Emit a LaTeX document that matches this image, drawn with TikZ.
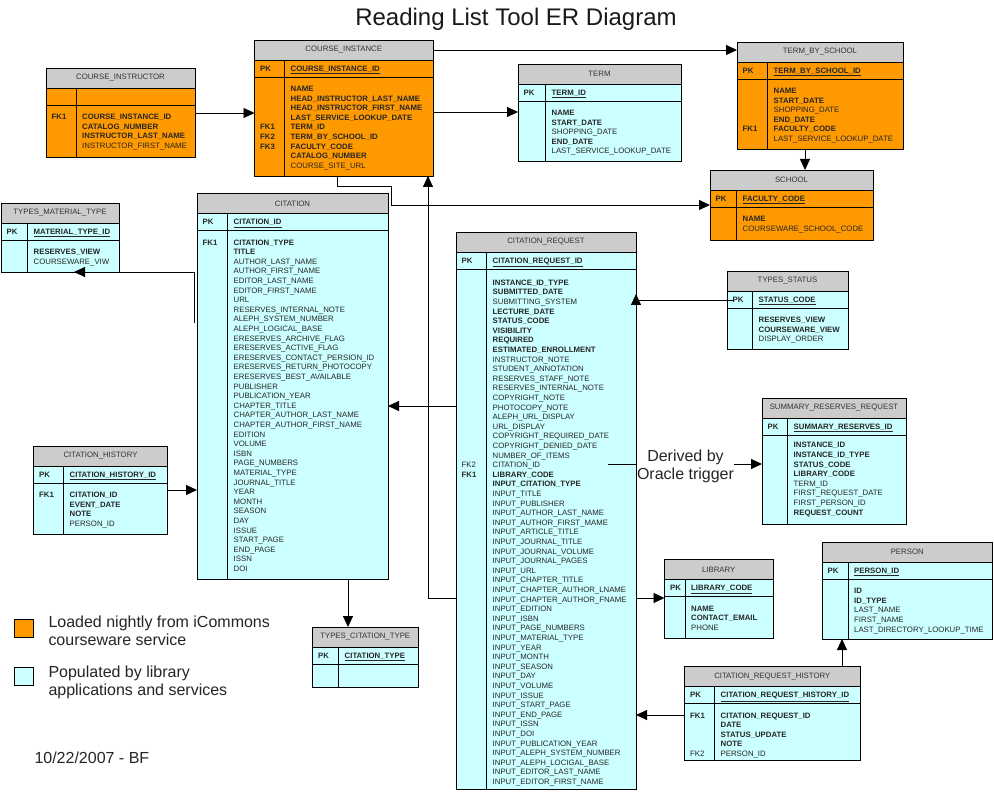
\documentclass[tikz,border=0pt]{standalone}
\usepackage{fontspec}
\setmainfont{Liberation Sans}
\usetikzlibrary{arrows.meta,calc}
\definecolor{orng}{HTML}{FF9900}
\definecolor{cyn}{HTML}{CCFFFF}
\definecolor{hgray}{HTML}{CCCCCC}
\definecolor{fieldgray}{HTML}{333333}
\newcommand{\fs}{\fontsize{7.8}{9.6}\selectfont}
\tikzset{
  tblbox/.style={draw=black, line width=0.8pt, inner sep=0pt, outer sep=0pt},
  hdrbox/.style={draw=black, line width=0.8pt, fill=hgray, inner sep=0pt, outer sep=0pt, minimum height=20pt, font=\fs, text=fieldgray},
  tline/.style={draw=black, line width=0.8pt},
  ftext/.style={anchor=base west, inner sep=0pt, font=\fs, text=black!85},
  arr/.style={draw=black, line width=0.9pt, -{Triangle[length=11pt,width=10pt]}},
  plainln/.style={draw=black, line width=0.9pt},
  legendtxt/.style={anchor=base west, inner sep=0pt, font=\fontsize{16}{19}\selectfont, text=black!85},
  legendbox/.style={draw=black, line width=0.8pt, inner sep=0pt, minimum width=19pt, minimum height=18.5pt},
}
% #1 name #2 left #3 top #4 right #5 bottom #6 divider #7 fill #8 title
\newcommand{\ertbl}[8]{%
  \node[tblbox, fill=#7, minimum width={(#4-#2)*1pt}, minimum height={(#5-#3)*1pt}] (#1) at ({(#2+#4)/2},{(#3+#5)/2}) {};
  \node[hdrbox, minimum width={(#4-#2)*1pt}] (#1-h) at ({(#2+#4)/2},{#3+10}) {#8};
  \draw[tline] ({#2},{#3+37}) -- ({#4},{#3+37});
  \draw[tline] ({#6},{#3+20}) -- ({#6},{#5});
  \coordinate (#1-c) at ({#2+5.5},{#3+31.3});
  \coordinate (#1-f) at ({#6+6},{#3+31.3});
}
\newcommand{\pkrow}[2]{%
  \node[ftext] (#1-pkl) at (#1-c) {\textbf{PK}};
  \node[ftext] (#1-pkf) at (#1-f) {\underline{\textbf{#2}}};
}
\newcommand{\fieldlist}[3][20.3]{%
  \foreach \fld [count=\i from 0] in {#3} {\node[ftext] (#2-r\i) at ($(#2-f)+(0,{#1+9.6*\i})$) {\fld};}
}
\newcommand{\fkey}[4][20.3]{%
  \node[ftext] (#2-k#3) at ($(#2-c)+(0,{#1+9.6*#3})$) {#4};
}
\begin{document}
\begin{tikzpicture}[x=1pt,y=-1pt]
\useasboundingbox (0,0) rectangle (994,794);
\fill[white] (0,0) rectangle (994,794);

\node[anchor=base, inner sep=0pt, font=\fontsize{24}{28}\selectfont, text=black!90] (title) at (516,26) {Reading List Tool ER Diagram};

% COURSE_INSTRUCTOR
\ertbl{cinstr}{46}{68}{195}{157}{76}{orng}{COURSE\_INSTRUCTOR}
\fkey{cinstr}{0}{\textbf{FK1}}
\fieldlist{cinstr}{\textbf{COURSE\_INSTANCE\_ID},\textbf{CATALOG\_NUMBER},\textbf{INSTRUCTOR\_LAST\_NAME},INSTRUCTOR\_FIRST\_NAME}

% COURSE_INSTANCE
\ertbl{cinst}{254.5}{40}{433}{176}{284.5}{orng}{COURSE\_INSTANCE}
\pkrow{cinst}{COURSE\_INSTANCE\_ID}
\fkey{cinst}{4}{\textbf{FK1}}
\fkey{cinst}{5}{\textbf{FK2}}
\fkey{cinst}{6}{\textbf{FK3}}
\fieldlist{cinst}{\textbf{NAME},\textbf{HEAD\_INSTRUCTOR\_LAST\_NAME},\textbf{HEAD\_INSTRUCTOR\_FIRST\_NAME},\textbf{LAST\_SERVICE\_LOOKUP\_DATE},\textbf{TERM\_ID},\textbf{TERM\_BY\_SCHOOL\_ID},\textbf{FACULTY\_CODE},\textbf{CATALOG\_NUMBER},COURSE\_SITE\_URL}

% TERM
\ertbl{term}{518}{64}{681}{161.5}{545.5}{cyn}{TERM}
\pkrow{term}{TERM\_ID}
\fieldlist{term}{\textbf{NAME},\textbf{START\_DATE},SHOPPING\_DATE,\textbf{END\_DATE},LAST\_SERVICE\_LOOKUP\_DATE}

% TERM_BY_SCHOOL
\ertbl{tbs}{737}{42}{903}{149.5}{767.5}{orng}{TERM\_BY\_SCHOOL}
\pkrow{tbs}{TERM\_BY\_SCHOOL\_ID}
\fkey{tbs}{4}{\textbf{FK1}}
\fieldlist{tbs}{\textbf{NAME},\textbf{START\_DATE},SHOPPING\_DATE,\textbf{END\_DATE},\textbf{FACULTY\_CODE},LAST\_SERVICE\_LOOKUP\_DATE}

% SCHOOL
\ertbl{school}{710}{170}{873}{240.5}{736.5}{orng}{SCHOOL}
\pkrow{school}{FACULTY\_CODE}
\fieldlist{school}{\textbf{NAME},COURSEWARE\_SCHOOL\_CODE}

% TYPES_MATERIAL_TYPE
\ertbl{tmt}{1}{203}{119}{272}{27.5}{cyn}{TYPES\_MATERIAL\_TYPE}
\pkrow{tmt}{MATERIAL\_TYPE\_ID}
\fieldlist{tmt}{\textbf{RESERVES\_VIEW},COURSEWARE\_VIW}

% CITATION
\ertbl{cit}{197}{193.5}{388}{579}{227.5}{cyn}{CITATION}
\pkrow{cit}{CITATION\_ID}
\fkey{cit}{0}{\textbf{FK1}}
\fieldlist{cit}{\textbf{CITATION\_TYPE},\textbf{TITLE},AUTHOR\_LAST\_NAME,AUTHOR\_FIRST\_NAME,EDITOR\_LAST\_NAME,EDITOR\_FIRST\_NAME,URL,RESERVES\_INTERNAL\_NOTE,ALEPH\_SYSTEM\_NUMBER,ALEPH\_LOGICAL\_BASE,ERESERVES\_ARCHIVE\_FLAG,ERESERVES\_ACTIVE\_FLAG,ERESERVES\_CONTACT\_PERSION\_ID,ERESERVES\_RETURN\_PHOTOCOPY,ERESERVES\_BEST\_AVAILABLE,PUBLISHER,PUBLICATION\_YEAR,CHAPTER\_TITLE,CHAPTER\_AUTHOR\_LAST\_NAME,CHAPTER\_AUTHOR\_FIRST\_NAME,EDITION,VOLUME,ISBN,PAGE\_NUMBERS,MATERIAL\_TYPE,JOURNAL\_TITLE,YEAR,MONTH,SEASON,DAY,ISSUE,START\_PAGE,END\_PAGE,ISSN,DOI}

% TYPES_STATUS
\ertbl{ts}{727}{271}{848}{349}{752.5}{cyn}{TYPES\_STATUS}
\pkrow{ts}{STATUS\_CODE}
\fieldlist{ts}{\textbf{RESERVES\_VIEW},\textbf{COURSEWARE\_VIEW},DISPLAY\_ORDER}

% CITATION_REQUEST
\ertbl{cr}{456}{232}{636}{789}{486.5}{cyn}{CITATION\_REQUEST}
\pkrow{cr}{CITATION\_REQUEST\_ID}
\fkey[22]{cr}{19}{FK2}
\fkey[22]{cr}{20}{\textbf{FK1}}
\fieldlist[22]{cr}{\textbf{INSTANCE\_ID\_TYPE},\textbf{SUBMITTED\_DATE},SUBMITTING\_SYSTEM,\textbf{LECTURE\_DATE},\textbf{STATUS\_CODE},\textbf{VISIBILITY},\textbf{REQUIRED},\textbf{ESTIMATED\_ENROLLMENT},INSTRUCTOR\_NOTE,STUDENT\_ANNOTATION,RESERVES\_STAFF\_NOTE,RESERVES\_INTERNAL\_NOTE,COPYRIGHT\_NOTE,PHOTOCOPY\_NOTE,ALEPH\_URL\_DISPLAY,URL\_DISPLAY,COPYRIGHT\_REQUIRED\_DATE,COPYRIGHT\_DENIED\_DATE,NUMBER\_OF\_ITEMS,CITATION\_ID,\textbf{LIBRARY\_CODE},\textbf{INPUT\_CITATION\_TYPE},INPUT\_TITLE,INPUT\_PUBLISHER,INPUT\_AUTHOR\_LAST\_NAME,INPUT\_AUTHOR\_FIRST\_MAME,INPUT\_ARTICLE\_TITLE,INPUT\_JOURNAL\_TITLE,INPUT\_JOURNAL\_VOLUME,INPUT\_JOURNAL\_PAGES,INPUT\_URL,INPUT\_CHAPTER\_TITLE,INPUT\_CHAPTER\_AUTHOR\_LNAME,INPUT\_CHAPTER\_AUTHOR\_FNAME,INPUT\_EDITION,INPUT\_ISBN,INPUT\_PAGE\_NUMBERS,INPUT\_MATERIAL\_TYPE,INPUT\_YEAR,INPUT\_MONTH,INPUT\_SEASON,INPUT\_DAY,INPUT\_VOLUME,INPUT\_ISSUE,INPUT\_START\_PAGE,INPUT\_END\_PAGE,INPUT\_ISSN,INPUT\_DOI,INPUT\_PUBLICATION\_YEAR,INPUT\_ALEPH\_SYSTEM\_NUMBER,INPUT\_ALEPH\_LOCIGAL\_BASE,INPUT\_EDITOR\_LAST\_NAME,INPUT\_EDITOR\_FIRST\_NAME}

% SUMMARY_RESERVES_REQUEST
\ertbl{srr}{762}{398}{906}{524}{787.5}{cyn}{SUMMARY\_RESERVES\_REQUEST}
\pkrow{srr}{SUMMARY\_RESERVES\_ID}
\fieldlist[18.5]{srr}{\textbf{INSTANCE\_ID},\textbf{INSTANCE\_ID\_TYPE},\textbf{STATUS\_CODE},\textbf{LIBRARY\_CODE},TERM\_ID,FIRST\_REQUEST\_DATE,FIRST\_PERSON\_ID,\textbf{REQUEST\_COUNT}}

% CITATION_HISTORY
\ertbl{ch}{33.5}{446}{167.5}{534}{63.5}{cyn}{CITATION\_HISTORY}
\pkrow{ch}{CITATION\_HISTORY\_ID}
\fkey{ch}{0}{\textbf{FK1}}
\fieldlist{ch}{\textbf{CITATION\_ID},\textbf{EVENT\_DATE},\textbf{NOTE},PERSON\_ID}

% LIBRARY
\ertbl{lib}{664.5}{559.5}{773}{638}{685}{cyn}{LIBRARY}
\pkrow{lib}{LIBRARY\_CODE}
\fieldlist{lib}{\textbf{NAME},\textbf{CONTACT\_EMAIL},PHONE}

% PERSON
\ertbl{person}{822}{542}{992.5}{639}{848}{cyn}{PERSON}
\pkrow{person}{PERSON\_ID}
\fieldlist{person}{\textbf{ID},\textbf{ID\_TYPE},LAST\_NAME,FIRST\_NAME,LAST\_DIRECTORY\_LOOKUP\_TIME}

% TYPES_CITATION_TYPE
\ertbl{tct}{312.5}{627}{418}{687}{338.5}{cyn}{TYPES\_CITATION\_TYPE}
\pkrow{tct}{CITATION\_TYPE}

% CITATION_REQUEST_HISTORY
\ertbl{crh}{684.5}{666.5}{860}{760}{714.5}{cyn}{CITATION\_REQUEST\_HISTORY}
\pkrow{crh}{CITATION\_REQUEST\_HISTORY\_ID}
\fkey{crh}{0}{\textbf{FK1}}
\fkey{crh}{4}{FK2}
\fieldlist{crh}{\textbf{CITATION\_REQUEST\_ID},\textbf{DATE},\textbf{STATUS\_UPDATE},\textbf{NOTE},PERSON\_ID}

% connectors
\draw[arr] (cinstr.east |- 0,113) -- (cinst.west |- 0,113);
\draw[arr] (cinst.east |- 0,50) -- (tbs.west |- 0,50);
\draw[arr] (cinst.east |- 0,112) -- (term.west |- 0,112);
\draw[arr] (805,0 |- tbs.south) -- (805,0 |- school.north);
\draw[arr] (337,0 |- cinst.south) -- (337,186) -- (391,186) -- (391,205) -- (school.west |- 0,205);
\draw[arr] (cr.west |- 0,598) -- (428,598) -- (428,0 |- cinst.south);
\draw[arr] (cr.west |- 0,406) -- (cit.east |- 0,406);
\coordinate (citL) at (194,323);
\draw[arr] (citL) -- (194,272) -- (74,0 |- tmt.south);
\draw[arr] (ch.east |- 0,490) -- (cit.west |- 0,490);
\draw[arr] (348,0 |- cit.south) -- (348,0 |- tct.north);
\coordinate (tsE) at (733,300);
\draw[plainln] (tsE) -- (cr.east |- tsE);
\draw[arr] (cr.east |- 0,307) -- (cr.east |- 0,294);
\coordinate (crS) at (608,464);
\node[inner sep=0pt, align=center, font=\fontsize{16}{18}\selectfont, text=black!85] (trig) at (685.5,466) {Derived by\\Oracle trigger};
\draw[plainln] (crS) -- (cr.east |- crS);
\draw[arr] (trig.east |- crS) -- (srr.west |- crS);
\draw[arr] (cr.east |- 0,598) -- (lib.west |- 0,598);
\draw[arr] (crh.west |- 0,715) -- (cr.east |- 0,715);
\draw[arr] (842,0 |- crh.north) -- (842,0 |- person.south);

% legend
\node[legendbox, fill=orng] (lgo) at (23.8,628.2) {};
\node[legendbox, fill=cyn] (lgc) at (23.8,676.2) {};
\node[legendtxt] (lgo1) at (48.3,627) {Loaded nightly from iCommons};
\node[legendtxt] (lgo2) at (48.3,645.5) {courseware service};
\node[legendtxt] (lgc1) at (48.3,677) {Populated by library};
\node[legendtxt] (lgc2) at (48.3,695.5) {applications and services};
\node[legendtxt] (date) at (34.3,763) {10/22/2007 - BF};
\end{tikzpicture}
\end{document}
